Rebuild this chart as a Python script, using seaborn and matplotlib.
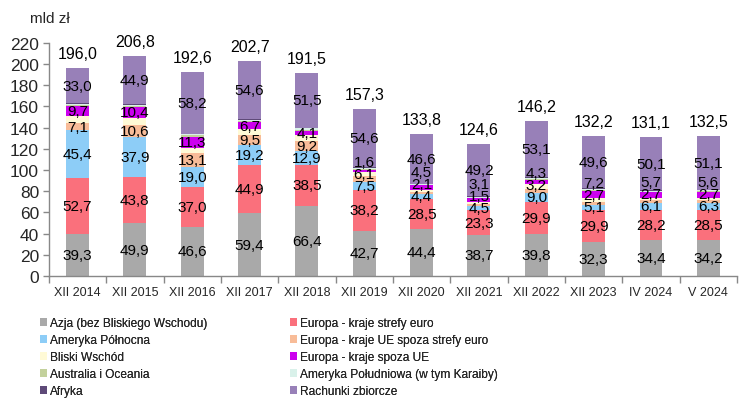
import numpy as np
import pandas as pd
import matplotlib
matplotlib.use("Agg")
import matplotlib.pyplot as plt
import seaborn as sns
from matplotlib.patches import Patch

sns.set_theme(style="white")
plt.rcParams['font.family'] = ['Liberation Sans', 'DejaVu Sans']

categories = ["XII 2014", "XII 2015", "XII 2016", "XII 2017", "XII 2018", "XII 2019",
              "XII 2020", "XII 2021", "XII 2022", "XII 2023", "IV 2024", "V 2024"]

azja        = [39.3, 49.9, 46.6, 59.4, 66.4, 42.7, 44.4, 38.7, 39.8, 32.3, 34.4, 34.2]
euro        = [52.7, 43.8, 37.0, 44.9, 38.5, 38.2, 28.5, 23.3, 29.9, 29.9, 28.2, 28.5]
am_pn       = [45.4, 37.9, 19.0, 19.2, 12.9, 7.5, 4.4, 4.5, 9.0, 5.1, 6.1, 6.3]
ue_spoza    = [7.1, 10.6, 13.1, 9.5, 9.2, 6.1, 2.1, 1.5, 3.2, 2.7, 2.7, 2.7]
bliski      = [6.0, 7.0, 4.6, 5.6, 6.1, 4.0, 1.5, 2.2, 4.6, 3.3, 1.8, 2.0]
spoza_ue    = [9.7, 10.4, 11.3, 6.7, 4.1, 1.6, 4.5, 3.1, 4.3, 7.2, 5.7, 5.6]
australia   = [0.9, 1.0, 1.0, 1.0, 1.0, 0.9, 0.6, 0.7, 0.8, 0.7, 0.7, 0.7]
am_pd       = [1.0, 1.0, 1.0, 1.0, 1.0, 0.9, 0.6, 0.7, 0.8, 0.7, 0.7, 0.7]
afryka      = [0.9, 0.9, 0.8, 0.8, 0.8, 0.8, 0.6, 0.7, 0.7, 0.7, 0.7, 0.7]
rachunki    = [33.0, 44.9, 58.2, 54.6, 51.5, 54.6, 46.6, 49.2, 53.1, 49.6, 50.1, 51.1]
totals      = [196.0, 206.8, 192.6, 202.7, 191.5, 157.3, 133.8, 124.6, 146.2, 132.2, 131.1, 132.5]

series = [
    ("Azja (bez Bliskiego Wschodu)", azja, "#A9A9A9", True),
    ("Europa - kraje strefy euro", euro, "#FA707C", True),
    ("Ameryka Północna", am_pn, "#8DCDF7", True),
    ("Europa - kraje UE spoza strefy euro", ue_spoza, "#F8BC98", True),
    ("Bliski Wschód", bliski, "#FFFAD6", False),
    ("Europa - kraje spoza UE", spoza_ue, "#CC00EE", True),
    ("Australia i Oceania", australia, "#C3D19C", False),
    ("Ameryka Południowa (w tym Karaiby)", am_pd, "#D9F1EA", False),
    ("Afryka", afryka, "#5E4A78", False),
    ("Rachunki zbiorcze", rachunki, "#9880B8", True),
]

fig = plt.figure(figsize=(7.40, 4.02), dpi=100)
ax = fig.add_axes([0.066, 0.311, 0.93, 0.58])

cums = []
running = np.zeros(len(categories))
for name, vals, col, lab in series:
    bottom = running.copy()
    running = running + np.array(vals)
    cums.append((name, bottom, running.copy(), col, lab, vals))

for name, bottom, top, col, lab, vals in reversed(cums):
    df = pd.DataFrame({"cat": categories, "val": top})
    sns.barplot(data=df, x="cat", y="val", color=col, width=0.4, ax=ax,
                saturation=1, edgecolor="none", linewidth=0, order=categories)

# segment labels, spread vertically so small segments stay readable
GAP = 11.5
labelled = [c for c in cums if c[4]]
for i in range(len(categories)):
    pos = [(b[i] + t[i]) / 2 for _, b, t, _, _, _ in labelled]
    for k in range(1, len(pos)):
        pos[k] = max(pos[k], pos[k - 1] + GAP)
    top_limit = (labelled[-1][1][i] + labelled[-1][2][i]) / 2
    if pos[-1] > top_limit:
        pos[-1] = top_limit
        for k in range(len(pos) - 2, -1, -1):
            pos[k] = min(pos[k], pos[k + 1] - GAP)
    for (name, b, t, col, lab, vals), y in zip(labelled, pos):
        ax.text(i, y, f"{vals[i]:.1f}".replace(".", ","),
                ha="center", va="center", fontsize=11, color="black")

for i, t in enumerate(totals):
    ax.annotate(f"{t:.1f}".replace(".", ","), (i, running[i]), xytext=(0, 5),
                textcoords="offset points", ha="center", va="bottom",
                fontsize=11.5, color="black", annotation_clip=False)

ax.set_ylim(0, 220)
ax.set_xlim(-0.5, len(categories) - 0.5)
ax.set_yticks(np.arange(0, 221, 20))
ax.tick_params(axis="y", labelsize=12.5, length=4, width=1, color="#888888",
               direction="out", left=True, pad=3)
ax.set_xticks(range(len(categories)))
ax.set_xticklabels(categories, fontsize=9)
ax.set_xticks(np.arange(-0.5, len(categories), 1), minor=True)
ax.tick_params(axis="x", which="major", length=0, pad=7)
ax.tick_params(axis="x", which="minor", length=5, width=1, color="#888888",
               direction="out", bottom=True)
ax.set_xlabel("")
ax.set_ylabel("")
for s in ["top", "right"]:
    ax.spines[s].set_visible(False)
for s in ["left", "bottom"]:
    ax.spines[s].set_color("#888888")
    ax.spines[s].set_linewidth(1)
ax.grid(False)

fig.text(30 / 740, 1 - 19 / 402, "mld zł", fontsize=11, ha="left", va="center")

handles = {name: Patch(facecolor=col, edgecolor="none") for name, vals, col, lab in series}
col1 = ["Azja (bez Bliskiego Wschodu)", "Ameryka Północna", "Bliski Wschód",
        "Australia i Oceania", "Afryka"]
col2 = ["Europa - kraje strefy euro", "Europa - kraje UE spoza strefy euro",
        "Europa - kraje spoza UE", "Ameryka Południowa (w tym Karaiby)", "Rachunki zbiorcze"]
for names, x0 in [(col1, 40 / 740), (col2, 290 / 740)]:
    leg = fig.legend([handles[n] for n in names], names, loc="upper left",
                     bbox_to_anchor=(x0, 1 - 318 / 402), frameon=False,
                     fontsize=8.6, handlelength=0.6, handleheight=0.6,
                     handletextpad=0.2, labelspacing=0.42, borderaxespad=0,
                     borderpad=0)
    fig.add_artist(leg)

fig.savefig("out.png", dpi=100)
